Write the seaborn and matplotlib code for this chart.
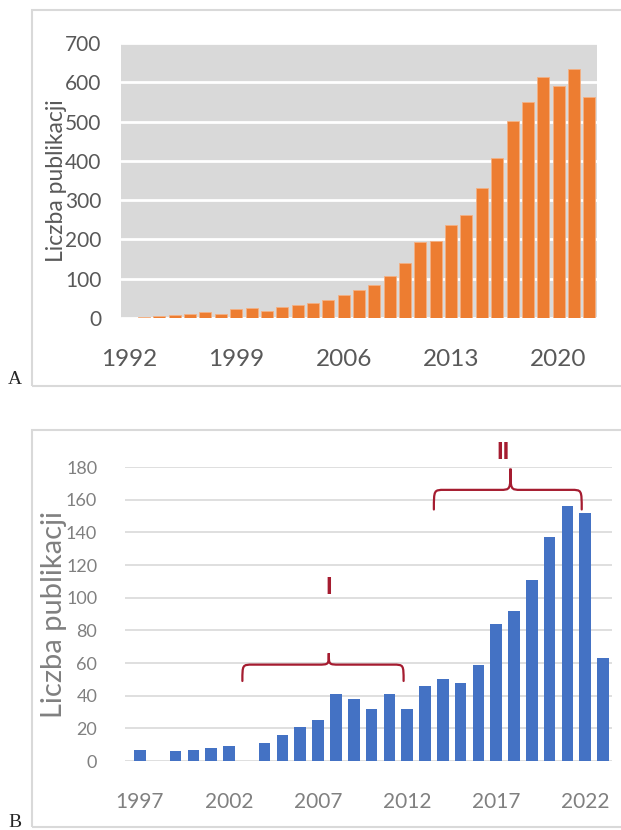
import matplotlib
matplotlib.use("Agg")
import matplotlib.pyplot as plt
import pandas as pd
import seaborn as sns
from matplotlib.patches import PathPatch, Rectangle
from matplotlib.path import Path

# panel A: publications per year, 1992-2022
YEARS_A = list(range(1992, 2023))
COUNTS_A = [1, 2, 4, 8, 9, 15, 10, 24, 26, 17, 29, 33, 39, 47, 59, 71, 85, 108,
            141, 193, 197, 236, 263, 332, 406, 501, 549, 613, 591, 633, 562]
TICKS_A = ["1992", "1999", "2006", "2013", "2020"]

# panel B: publications per year, 1997-2023
YEARS_B = list(range(1997, 2024))
COUNTS_B = [7, 0, 6, 7, 8, 9, 0, 11, 16, 21, 25, 41, 38, 32, 41, 32, 46, 50,
            48, 59, 84, 92, 111, 137, 156, 152, 63]
TICKS_B = ["1997", "2002", "2007", "2012", "2017", "2022"]

YLABEL = "Liczba publikacji"
ORANGE = "#ED7D31"
BLUE = "#4472C4"
BRACE_RED = "#A51C30"

W, H = 621, 830


def fig_rect(left, top, right, bottom):
    return [left / W, 1 - bottom / H, (right - left) / W, (bottom - top) / H]


def brace(ax, x0, x1, xm, y_end, y_h, y_tip, r=0.5):
    verts = [
        (x0, y_end), (x0, y_h), (x0, y_h), (x0 + r, y_h),
        (xm - r, y_h),
        (xm, y_h), (xm, y_h), (xm, y_tip),
        (xm, y_h), (xm, y_h), (xm + r, y_h),
        (x1 - r, y_h),
        (x1, y_h), (x1, y_h), (x1, y_end),
    ]
    codes = [Path.MOVETO, Path.CURVE4, Path.CURVE4, Path.CURVE4,
             Path.LINETO,
             Path.CURVE4, Path.CURVE4, Path.CURVE4,
             Path.CURVE4, Path.CURVE4, Path.CURVE4,
             Path.LINETO,
             Path.CURVE4, Path.CURVE4, Path.CURVE4]
    ax.add_patch(PathPatch(Path(verts, codes), fill=False, edgecolor=BRACE_RED,
                           lw=1.6, clip_on=False, capstyle="round"))


sns.set_style("white")
plt.rcParams["font.family"] = ["Lato", "DejaVu Sans"]

fig = plt.figure(figsize=(W / 100, H / 100), dpi=100)

# panel frames
fig.add_artist(Rectangle((32 / W, 1 - 386 / H), 1, 376 / H, transform=fig.transFigure,
                         fill=False, edgecolor="#D9D9D9", lw=1.5))
fig.add_artist(Rectangle((32 / W, 1 - 827 / H), 1, 397 / H, transform=fig.transFigure,
                         fill=False, edgecolor="#D9D9D9", lw=1.5))

# ---- panel A ----
ax_a = fig.add_axes(fig_rect(121, 43, 597, 318))
df_a = pd.DataFrame({"year": [str(y) for y in YEARS_A], "count": COUNTS_A})
sns.barplot(data=df_a, x="year", y="count", color=ORANGE, saturation=1, width=0.78,
            edgecolor="#F4B183", linewidth=0.6, ax=ax_a, zorder=3)
ax_a.set_facecolor("#D9D9D9")
ax_a.set_ylim(0, 700)
ax_a.set_xlim(-0.5, len(YEARS_A) - 0.5)
ax_a.set_yticks(range(0, 701, 100))
ax_a.grid(axis="y", color="white", lw=2, zorder=0)
ax_a.set_axisbelow(True)
ax_a.set_xticks([df_a["year"].tolist().index(t) for t in TICKS_A])
ax_a.set_xticklabels(TICKS_A)
ax_a.tick_params(axis="y", length=0, pad=14, labelsize=15, labelcolor="#595959")
ax_a.tick_params(axis="x", length=0, pad=22, labelsize=17.5, labelcolor="#595959")
for s in ax_a.spines.values():
    s.set_visible(False)
ax_a.set_xlabel("")
ax_a.set_ylabel(YLABEL, fontsize=16.5, color="#595959")
ax_a.yaxis.set_label_coords(-0.113, 0.5)

# ---- panel B ----
ax_b = fig.add_axes(fig_rect(125, 467, 612, 761))
df_b = pd.DataFrame({"year": [str(y) for y in YEARS_B], "count": COUNTS_B})
sns.barplot(data=df_b, x="year", y="count", color=BLUE, saturation=1, width=0.65,
            linewidth=0, ax=ax_b, zorder=3)
ax_b.set_ylim(0, 180)
ax_b.set_xlim(-0.84, 26.5)
ax_b.set_yticks(range(0, 181, 20))
ax_b.grid(axis="y", color="#D9D9D9", lw=1.2, zorder=0)
ax_b.set_axisbelow(True)
ax_b.set_xticks([df_b["year"].tolist().index(t) for t in TICKS_B])
ax_b.set_xticklabels(TICKS_B)
ax_b.tick_params(axis="y", length=0, pad=20, labelsize=13, labelcolor="#808080")
ax_b.tick_params(axis="x", length=0, pad=22, labelsize=15, labelcolor="#808080")
for s in ax_b.spines.values():
    s.set_visible(False)
ax_b.set_xlabel("")
ax_b.set_ylabel(YLABEL, fontsize=21, color="#808080")
ax_b.yaxis.set_label_coords(-0.119, 0.5)

# period braces
brace(ax_b, 5.75, 14.8, 10.6, 49, 59, 66, r=0.6)
brace(ax_b, 16.5, 24.8, 20.8, 154, 166, 179, r=0.6)
ax_b.text(10.6, 106, "I", color=BRACE_RED, fontsize=17, fontweight="bold",
          ha="center", va="center", family="Liberation Sans")
ax_b.text(20.4, 189, "II", color=BRACE_RED, fontsize=17, fontweight="bold",
          ha="center", va="center", family="Liberation Sans", clip_on=False)

fig.text(15 / W, 1 - 380 / H, "A", family="Liberation Serif", fontsize=14,
         ha="center", va="center")
fig.text(15 / W, 1 - 822 / H, "B", family="Liberation Serif", fontsize=14,
         ha="center", va="center")

fig.savefig("out.png", dpi=100)
